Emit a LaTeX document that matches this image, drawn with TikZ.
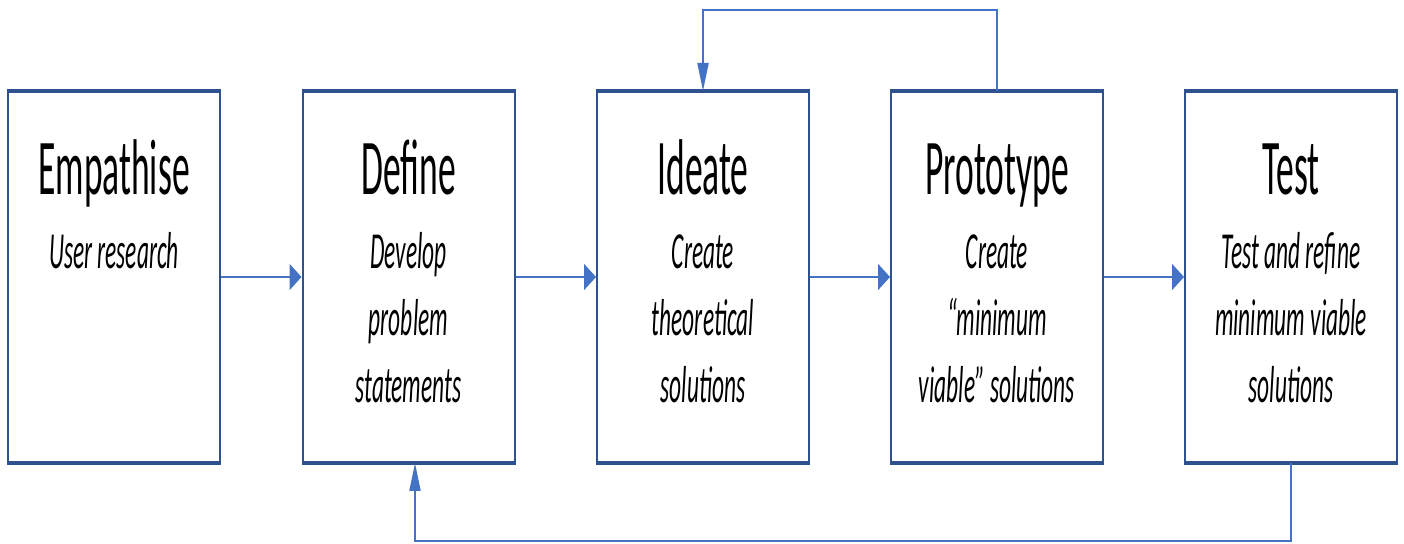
\documentclass[tikz,border=0pt]{standalone}
\usepackage{fontspec}
\usetikzlibrary{arrows.meta}
\newfontfamily\headfont{Carlito}[FakeStretch=0.45]
\newfontfamily\stepfont{Carlito}[FakeStretch=0.45]
\definecolor{boxblue}{RGB}{47,82,143}
\definecolor{linkblue}{RGB}{68,114,196}

\begin{document}
\begin{tikzpicture}[x=1pt,y=1pt,
  stage/.style={draw=boxblue, line width=2pt, fill=white, inner sep=0pt,
    minimum width=212pt, minimum height=370pt},
  title/.style={anchor=base, inner sep=0pt, font=\headfont\fontsize{79}{90}\selectfont},
  blurb/.style={anchor=base, inner sep=0pt, align=center,
    font=\stepfont\itshape\fontsize{52}{67}\selectfont},
  link/.style={draw=linkblue, line width=2pt},
  harrow/.style={link, -{Triangle[length=12pt, width=26pt]}},
  varrow/.style={link, -{Triangle[length=28pt, width=11pt]}}]
\useasboundingbox (0,0) rectangle (1404,543);

% the five stages
\node[stage] (emp) at (114,266) {};
\node[stage] (def) at (408.5,266) {};
\node[stage] (ide) at (703,266) {};
\node[stage] (pro) at (997,266) {};
\node[stage] (tst) at (1291,266) {};

% heavier top and bottom rules
\foreach \s in {emp,def,ide,pro,tst} {
  \draw[boxblue, line width=4.5pt] (\s.north west) -- (\s.north east);
  \draw[boxblue, line width=4.5pt] (\s.south west) -- (\s.south east);
}

\node[title] (emp-t) at ([yshift=-104pt]emp.north) {Empathise};
\node[title] (def-t) at ([yshift=-104pt]def.north) {Define};
\node[title] (ide-t) at ([yshift=-104pt]ide.north) {Ideate};
\node[title] (pro-t) at ([yshift=-104pt]pro.north) {Prototype};
\node[title] (tst-t) at ([yshift=-104pt]tst.north) {Test};

% base anchor sits on the last line
\node[blurb] (emp-b) at ([yshift=-178pt]emp.north) {User research};
\node[blurb] (def-b) at ([yshift=-312pt]def.north) {Develop\\problem\\statements};
\node[blurb] (ide-b) at ([yshift=-312pt]ide.north) {Create\\theoretical\\solutions};
\node[blurb] (pro-b) at ([yshift=-312pt]pro.north) {Create\\“minimum\\viable” solutions};
\node[blurb] (tst-b) at ([yshift=-312pt]tst.north) {Test and refine\\minimum viable\\solutions};

% forward flow
\draw[harrow] (emp.east) -- (def.west);
\draw[harrow] (def.east) -- (ide.west);
\draw[harrow] (ide.east) -- (pro.west);
\draw[harrow] (pro.east) -- (tst.west);

% loops back
\coordinate (top-r) at (997,533);
\coordinate (top-l) at (703,533);
\draw[varrow] (pro.north) -- (top-r) -- (top-l) -- (ide.north);
\coordinate (bot-r) at (1291,2);
\coordinate (bot-l) at (415,2);
\draw[varrow] (tst.south) -- (bot-r) -- (bot-l) -- ([xshift=6.5pt]def.south);
\end{tikzpicture}
\end{document}
